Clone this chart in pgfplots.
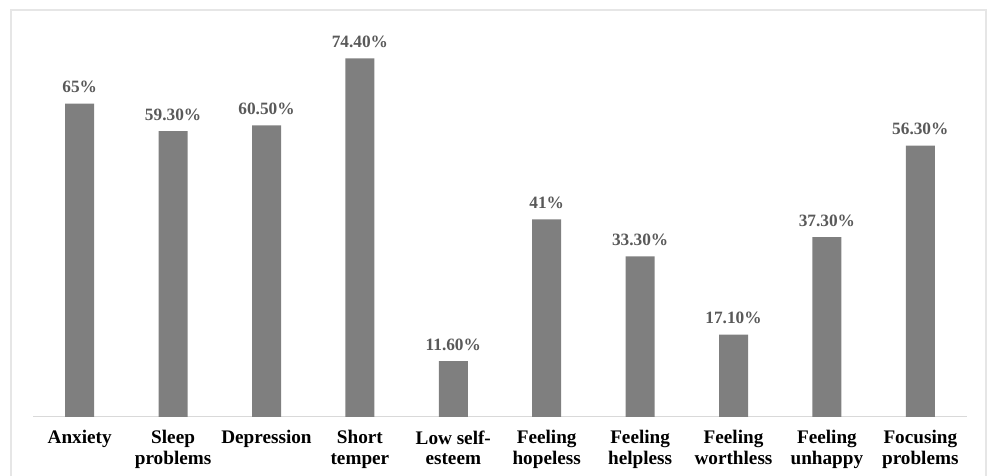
\documentclass[border=0pt]{standalone}
\usepackage{pgfplots}
\pgfplotsset{compat=1.18}
\usepackage{fontspec}
\setmainfont{Liberation Serif}
\definecolor{barc}{HTML}{7F7F7F}
\definecolor{lab}{HTML}{595959}
\definecolor{axc}{HTML}{D9D9D9}
\definecolor{frm}{HTML}{E6E6E6}
\begin{document}
\begin{tikzpicture}[x=1pt,y=1pt]
\path[use as bounding box] (-33,-59) rectangle (954,417);
\draw[frm, line width=1.2pt] (-22,-70) -- (-22,407) -- (953,407) -- (953,-70);
\begin{axis}[
  at={(0,0)}, anchor=south west,
  scale only axis, width=934pt, height=385.6pt,
  xmin=-0.5, xmax=9.5, ymin=0, ymax=80,
  axis x line=bottom, axis y line=none,
  axis line style={axc, line width=1pt, -},
  xtick=data, major tick length=0pt,
  xticklabels={Anxiety, Sleep\\problems, Depression, Short\\temper, Low self-\\esteem, Feeling\\hopeless, Feeling\\helpless, Feeling\\worthless, Feeling\\unhappy, Focusing\\problems},
  xticklabel style={align=center, font=\fontsize{19.2}{20.5}\selectfont\bfseries, text=black, yshift=-10pt},
  ybar, bar width=29pt,
  nodes near coords, point meta=explicit symbolic,
  every node near coord/.append style={font=\fontsize{17.3}{18}\selectfont\bfseries, text=lab, yshift=7pt},
  clip=false,
]
\addplot[fill=barc, draw=none] table[meta=lbl] {
x y lbl
0 65 65\%
1 59.3 59.30\%
2 60.5 60.50\%
3 74.4 74.40\%
4 11.6 11.60\%
5 41 41\%
6 33.3 33.30\%
7 17.1 17.10\%
8 37.3 37.30\%
9 56.3 56.30\%
};
\end{axis}
\end{tikzpicture}
\end{document}
